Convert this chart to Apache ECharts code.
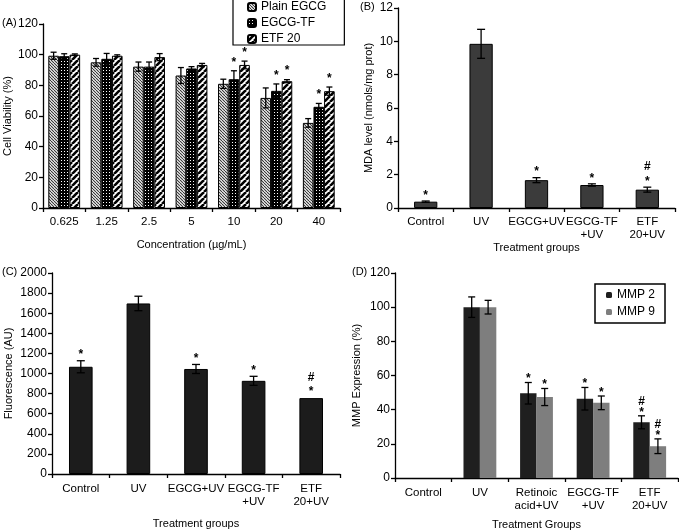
<!DOCTYPE html>
<html><head><meta charset="utf-8">
<script src="https://cdn.jsdelivr.net/npm/echarts@6/dist/echarts.min.js"></script>
<style>html,body{margin:0;padding:0;background:#fff}#c{width:679px;height:532px}</style>
</head><body><div id="c"></div>
<script>
// ---- Panel A data ----
const catA = ['0.625','1.25','2.5','5','10','20','40'];
const plainEGCG = [99.3, 95, 92.2, 86.4, 81, 71.8, 55.5];
const plainEGCGErr = [2.3, 2.5, 3, 5.2, 3, 6.5, 2.8];
const egcgTF = [99, 97.3, 92.2, 91, 84, 76.4, 66];
const egcgTFErr = [1.6, 3.5, 3, 1.2, 5.5, 4.5, 2.2];
const etf20 = [100, 99.3, 98.4, 93.3, 93.3, 82.7, 76.2];
const etf20Err = [0.5, 0.6, 2.3, 1, 2.5, 1, 2.7];
const sigPlain = ['','','','','','',''];
const sigTF = ['','','','','*','*','*'];
const sigETF = ['','','','','*','*','*'];
// ---- Panel B data ----
const catB = ['Control','UV','EGCG+UV','EGCG-TF\n+UV','ETF\n20+UV'];
const mda = [0.38, 9.85, 1.67, 1.38, 1.1];
const mdaErr = [0.04, 0.87, 0.15, 0.07, 0.15];
const sigB = ['*','','*','*','#\n*'];
// ---- Panel C data ----
const catC = ['Control','UV','EGCG+UV','EGCG-TF\n+UV','ETF\n20+UV'];
const fluor = [1067, 1697, 1045, 927, 755];
const fluorErr = [60, 72, 45, 45, 0];
const sigC = ['*','','*','*','#\n*'];
// ---- Panel D data ----
const catD = ['Control','UV','Retinoic\nacid+UV','EGCG-TF\n+UV','ETF\n20+UV'];
const mmp2 = [0, 100, 49.6, 46.4, 32.6];
const mmp2Err = [0, 6, 6.3, 6.6, 3.8];
const mmp9 = [0, 100, 47.4, 44, 18.6];
const mmp9Err = [0, 4, 5, 4, 4.3];
const sigMMP2 = ['','','*','*','#\n*'];
const sigMMP9 = ['','','*','*','#\n*'];

const FONT = 'Liberation Sans, Arial, sans-serif';

function pattern(kind){
  const c = document.createElement('canvas');
  const g = c.getContext('2d');
  if (kind === 'back') {
    const n = 3; c.width = n; c.height = n;
    g.fillStyle = '#fff'; g.fillRect(0,0,n,n);
    g.strokeStyle = '#333'; g.lineWidth = 1.1;
    for (let k=-n;k<=n;k+=n){ g.beginPath(); g.moveTo(k,0); g.lineTo(k+n,n); g.stroke(); }
  } else if (kind === 'dots') {
    const n = 3; c.width = n; c.height = n;
    g.fillStyle = '#000'; g.fillRect(0,0,n,n);
    g.fillStyle = '#fff'; g.fillRect(1,1,1,1);
  } else {
    const n = 6; c.width = n; c.height = n;
    g.fillStyle = '#fff'; g.fillRect(0,0,n,n);
    g.strokeStyle = '#000'; g.lineWidth = 2.6;
    for (let k=-n;k<=n;k+=n){ g.beginPath(); g.moveTo(k,n); g.lineTo(k+n,0); g.stroke(); }
  }
  return {image: c, repeat: 'repeat'};
}

function errSeries(ax, vals, errs, sigs, idx, n, frac, capW, sigGap, sigLH){
  return {
    type:'custom', xAxisIndex:ax, yAxisIndex:ax, z:10, silent:true,
    data: vals.map((v,i)=>[i, v, errs[i]]),
    renderItem: function(params, api){
      const i = api.value(0), v = api.value(1), e = api.value(2);
      const band = api.size([1,0])[0];
      const off = (idx - (n-1)/2) * band * frac;
      const hi = api.coord([i, v+e]);
      const lo = api.coord([i, v-e]);
      const x = hi[0] + off;
      const st = {stroke:'#000', lineWidth:1.3};
      const ch = [];
      if (e > 0) {
        ch.push({type:'line', shape:{x1:x,y1:hi[1],x2:x,y2:lo[1]}, style:st});
        ch.push({type:'line', shape:{x1:x-capW/2,y1:hi[1],x2:x+capW/2,y2:hi[1]}, style:st});
        ch.push({type:'line', shape:{x1:x-capW/2,y1:lo[1],x2:x+capW/2,y2:lo[1]}, style:st});
      }
      const s = sigs[params.dataIndex];
      if (s) ch.push({type:'text', style:{text:s, x:x, y:hi[1]+sigGap, align:'center', verticalAlign:'bottom', font:'bold 12px '+FONT, fill:'#000', lineHeight:sigLH}});
      return {type:'group', children:ch};
    }
  };
}

const axLine = {show:true, lineStyle:{color:'#000', width:1.3}};
const axTick = {show:true, length:4, lineStyle:{color:'#000', width:1.3}};
const xlbl = {color:'#000', fontSize:11.5, fontFamily:FONT, lineHeight:12.5};
const ylbl = {color:'#000', fontSize:12, fontFamily:FONT};
const nameStyle = {color:'#000', fontSize:11, fontFamily:FONT};

function xAx(gi, cats, name, gap, margin){
  return {type:'category', gridIndex:gi, data:cats, axisLine:axLine, axisTick:axTick,
    axisLabel:Object.assign({interval:0, margin:margin}, xlbl), name:name, nameLocation:'middle', nameGap:gap, nameTextStyle:nameStyle};
}
function yAx(gi, max, interval, name, gap){
  return {type:'value', gridIndex:gi, min:0, max:max, interval:interval, axisLine:axLine, axisTick:axTick,
    splitLine:{show:false}, axisLabel:Object.assign({margin:5, formatter:(v)=>String(v)}, ylbl), name:name, nameLocation:'middle', nameGap:gap, nameTextStyle:nameStyle};
}

const chart = echarts.init(document.getElementById('c'), null, {renderer:'canvas'});
const pBack = pattern('back'), pDots = pattern('dots'), pStripe = pattern('stripe');
const bs = {borderColor:'#000', borderWidth:1};

chart.setOption({
  animation:false,
  backgroundColor:'#fff',
  textStyle:{fontFamily:FONT},
  grid:[
    {left:43, top:24, width:297, height:184},
    {left:398, top:8, width:277, height:200},
    {left:52, top:273, width:288, height:201},
    {left:395, top:273, width:283, height:205}
  ],
  xAxis:[
    xAx(0, catA, 'Concentration (µg/mL)', 31, 8),
    xAx(1, catB, 'Treatment groups', 34, 8),
    xAx(2, catC, 'Treatment groups', 44, 9),
    xAx(3, catD, 'Treatment Groups', 41, 9)
  ],
  yAxis:[
    yAx(0, 120, 20, 'Cell Viability (%)', 30),
    yAx(1, 12, 2, 'MDA level (nmols/mg prot)', 24),
    yAx(2, 2000, 200, 'Fluorescence (AU)', 38),
    yAx(3, 120, 20, 'MMP Expression (%)', 33)
  ],
  legend:[
    {data:['Plain EGCG','EGCG-TF','ETF 20'], orient:'vertical', left:233, top:-4, itemWidth:8, itemHeight:8, itemGap:4,
     padding:[5,18,0,14], borderColor:'#000', borderWidth:1.2, backgroundColor:'#fff',
     textStyle:{color:'#000', fontSize:12, fontFamily:FONT}},
    {data:['MMP 2','MMP 9'], orient:'vertical', left:595, top:284, itemWidth:6, itemHeight:6, itemGap:5,
     padding:[5,10,5,11], borderColor:'#000', borderWidth:1.5, backgroundColor:'#fff',
     textStyle:{color:'#000', fontSize:12, fontFamily:FONT}}
  ],
  graphic:[
    {type:'text', left:2, top:17, style:{text:'(A)', font:'11px '+FONT, fill:'#000'}},
    {type:'text', left:360, top:1, style:{text:'(B)', font:'11px '+FONT, fill:'#000'}},
    {type:'text', left:2, top:266, style:{text:'(C)', font:'11px '+FONT, fill:'#000'}},
    {type:'text', left:352, top:266, style:{text:'(D)', font:'11px '+FONT, fill:'#000'}}
  ],
  series:[
    {name:'Plain EGCG', type:'bar', xAxisIndex:0, yAxisIndex:0, data:plainEGCG, barWidth:'25%', barGap:'0%', itemStyle:Object.assign({color:pBack}, bs)},
    {name:'EGCG-TF', type:'bar', xAxisIndex:0, yAxisIndex:0, data:egcgTF, barWidth:'25%', barGap:'0%', itemStyle:Object.assign({color:pDots}, bs)},
    {name:'ETF 20', type:'bar', xAxisIndex:0, yAxisIndex:0, data:etf20, barWidth:'25%', barGap:'0%', itemStyle:Object.assign({color:pStripe}, bs)},
    errSeries(0, plainEGCG, plainEGCGErr, sigPlain, 0, 3, 0.25, 6, -2, 13),
    errSeries(0, egcgTF, egcgTFErr, sigTF, 1, 3, 0.25, 6, -2, 13),
    errSeries(0, etf20, etf20Err, sigETF, 2, 3, 0.25, 6, -2, 13),

    {name:'MDA', type:'bar', xAxisIndex:1, yAxisIndex:1, data:mda, barWidth:'42%', itemStyle:{color:'#3b3b3b', borderColor:'#000', borderWidth:1}},
    errSeries(1, mda, mdaErr, sigB, 0, 1, 0.42, 8, 2, 15),

    {name:'Fluorescence', type:'bar', xAxisIndex:2, yAxisIndex:2, data:fluor, barWidth:'41%', itemStyle:{color:'#1c1c1c', borderColor:'#000', borderWidth:1}},
    errSeries(2, fluor, fluorErr, sigC, 0, 1, 0.41, 8, 1, 14),

    {name:'MMP 2', type:'bar', xAxisIndex:3, yAxisIndex:3, data:mmp2, barWidth:'29%', barGap:'0%', itemStyle:{color:'#1f1f1f'}},
    {name:'MMP 9', type:'bar', xAxisIndex:3, yAxisIndex:3, data:mmp9, barWidth:'29%', barGap:'0%', itemStyle:{color:'#7e7e7e'}},
    errSeries(3, mmp2, mmp2Err, sigMMP2, 0, 2, 0.29, 7, 2, 11),
    errSeries(3, mmp9, mmp9Err, sigMMP9, 1, 2, 0.29, 7, 2, 11)
  ]
});
</script></body></html>
